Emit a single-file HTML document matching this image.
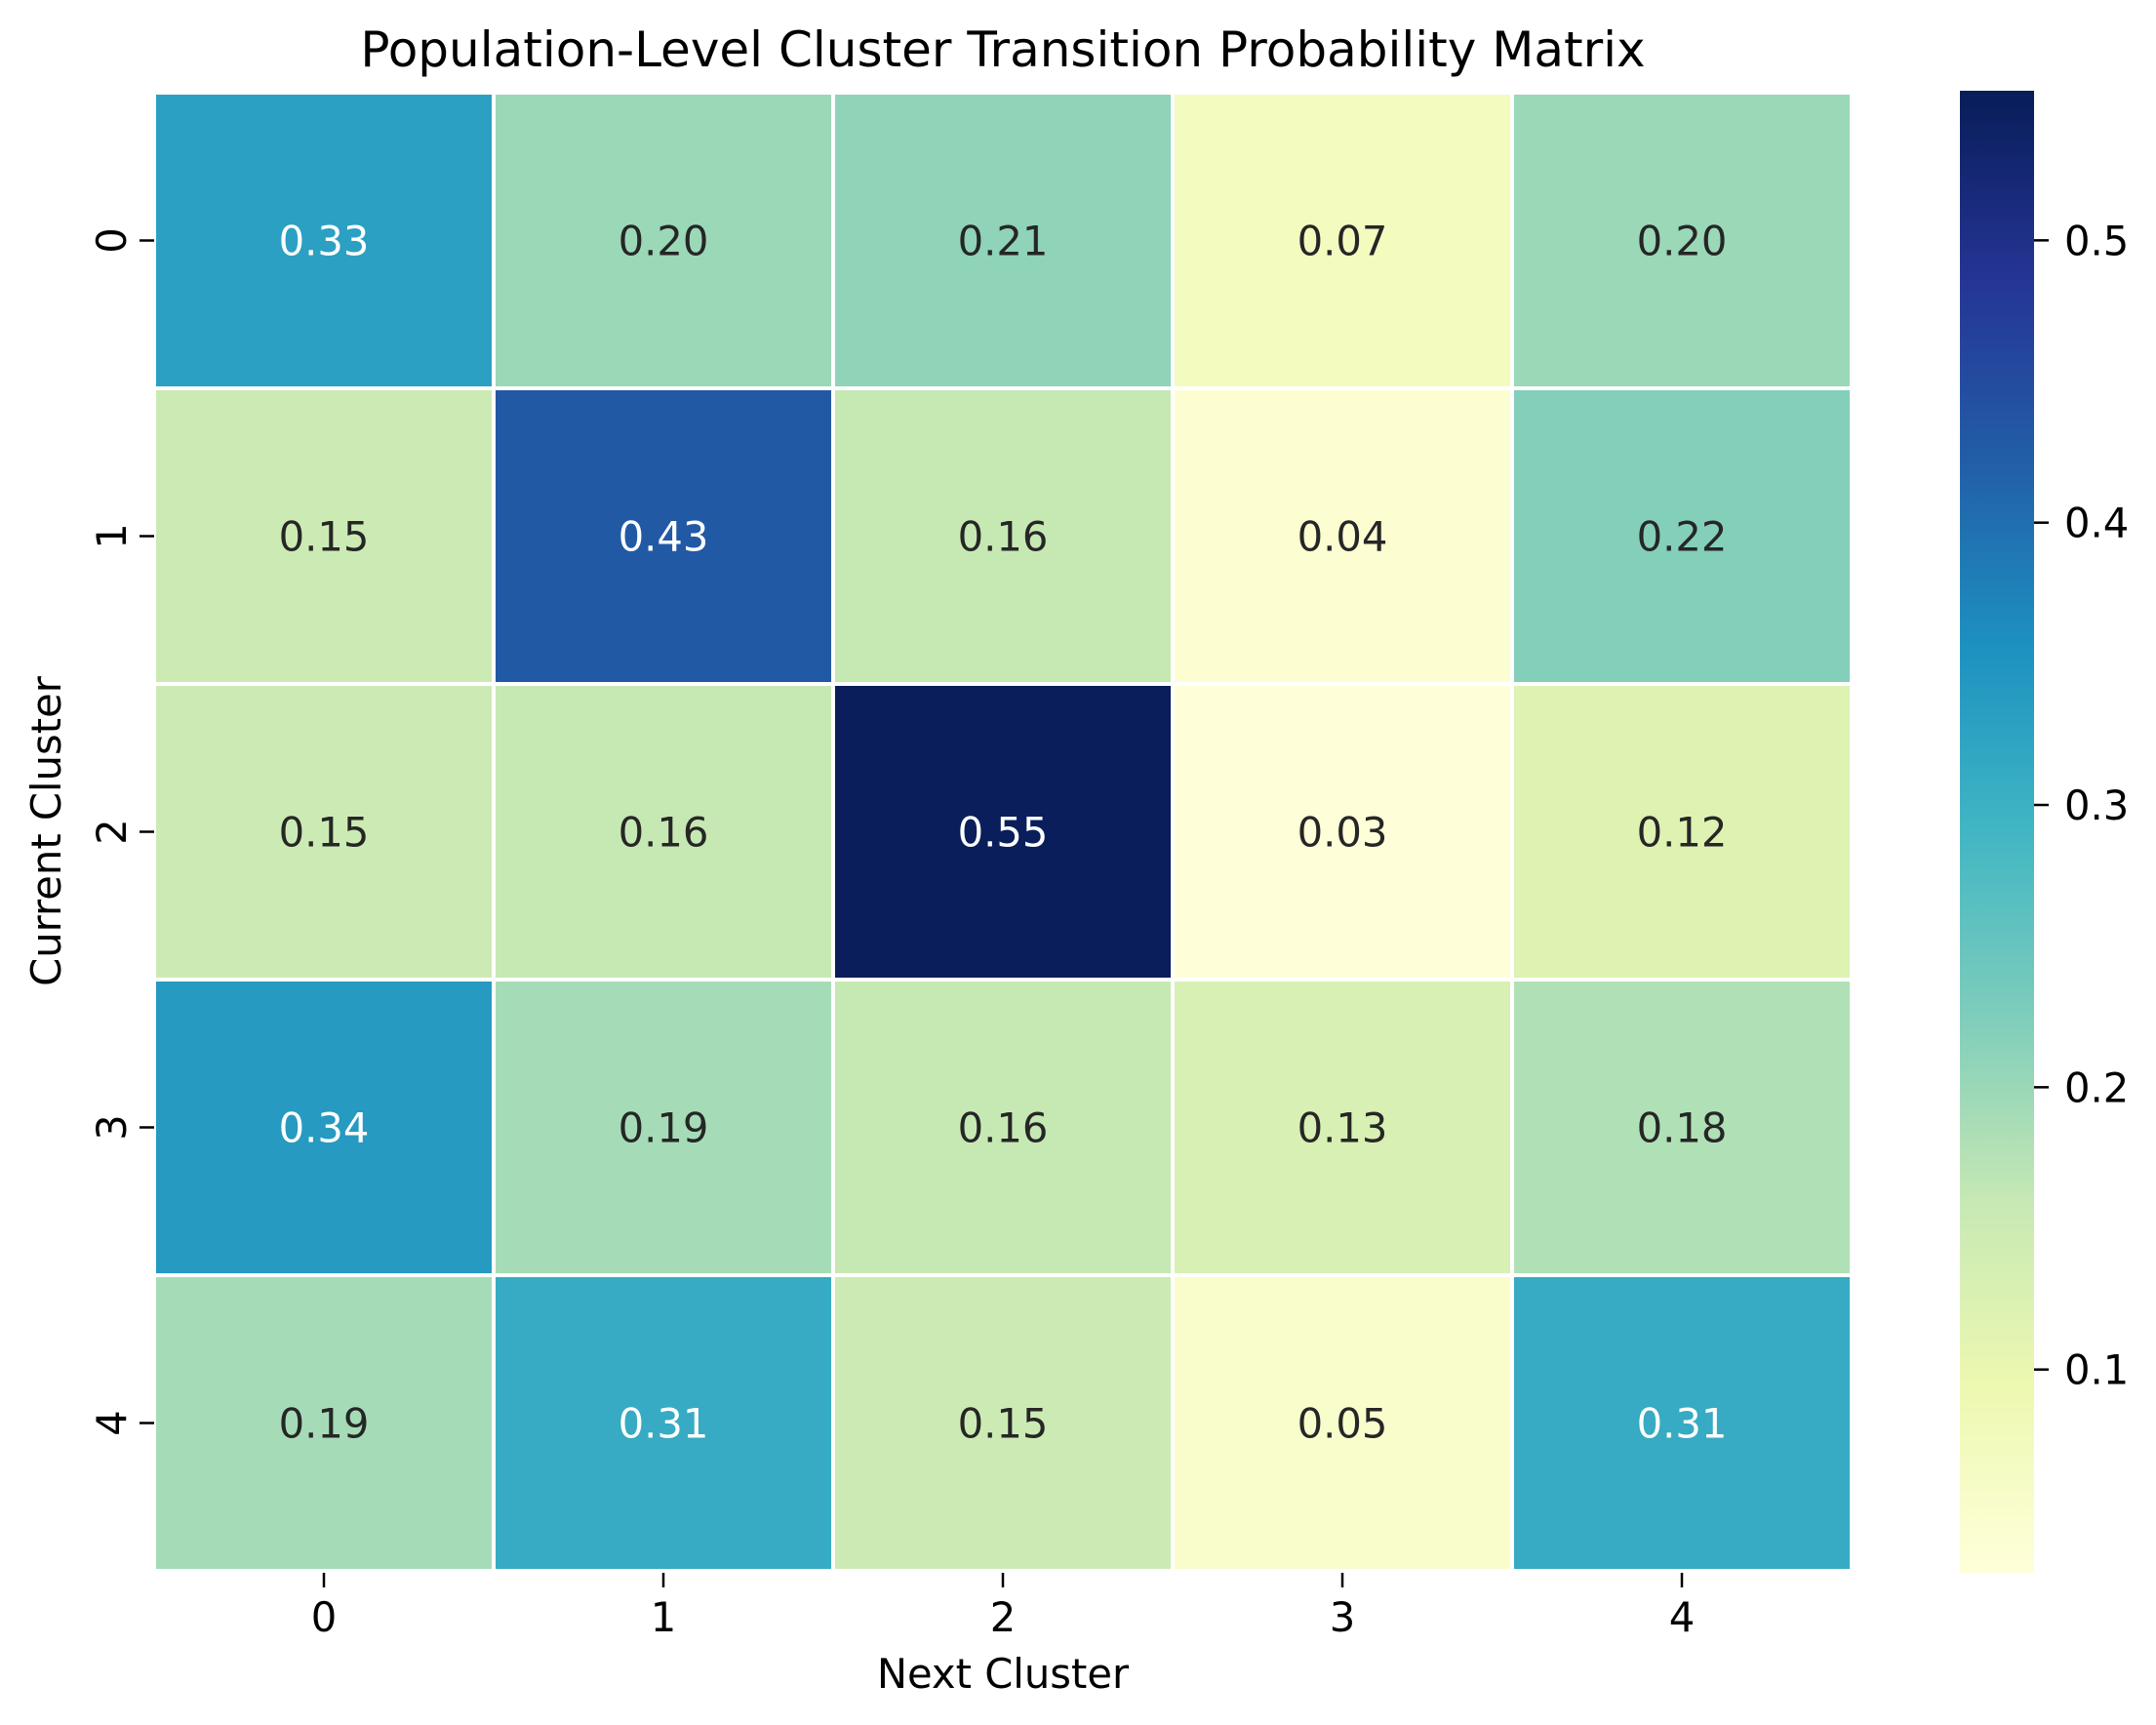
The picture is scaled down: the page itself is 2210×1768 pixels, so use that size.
<!DOCTYPE html>
<html><head><meta charset="utf-8"><style>
html,body{margin:0;padding:0;background:#fff;}
svg{display:block;font-family:"DejaVu Sans","Liberation Sans",sans-serif;}
</style></head><body>
<svg id="chart" width="2210" height="1768" viewBox="0 0 2210 1768" xmlns="http://www.w3.org/2000/svg">
<defs><linearGradient id="cbgrad" x1="0" y1="1" x2="0" y2="0"></linearGradient></defs>
<text x="1028" y="68" font-size="50" text-anchor="middle" fill="#000">Population-Level Cluster Transition Probability Matrix</text>
<g id="cells"></g>
<g id="axes"></g>
<text x="1028" y="1730" font-size="41.7" text-anchor="middle" fill="#000">Next Cluster</text>
<text x="0" y="0" font-size="41.7" text-anchor="middle" fill="#000" transform="translate(62,852) rotate(-90)">Current Cluster</text>
<rect x="2009" y="93" width="76" height="1519" fill="url(#cbgrad)"></rect>
<g id="cbaxis"></g>
</svg>
<script>
const rowLabels = ["0","1","2","3","4"];
const colLabels = ["0","1","2","3","4"];
const row0 = [0.33, 0.20, 0.21, 0.07, 0.20];
const row1 = [0.15, 0.43, 0.16, 0.04, 0.22];
const row2 = [0.15, 0.16, 0.55, 0.03, 0.12];
const row3 = [0.34, 0.19, 0.16, 0.13, 0.18];
const row4 = [0.19, 0.31, 0.15, 0.05, 0.31];
const cbTicks = [0.1, 0.2, 0.3, 0.4, 0.5];
const vmin = 0.028, vmax = 0.553;

const matrix = [row0,row1,row2,row3,row4];
const cmap = ["#ffffd9","#edf8b1","#c7e9b4","#7fcdbb","#41b6c4","#1d91c0","#225ea8","#253494","#081d58"];
const NS = "http://www.w3.org/2000/svg";
const L = 158, R = 1898, T = 95, B = 1610;
const cw = (R - L) / colLabels.length, ch = (B - T) / rowLabels.length;
function xPos(i){ return L + i * cw; }
function yPos(j){ return T + j * ch; }
function hex(c){ return [1,3,5].map(k=>parseInt(c.substr(k,2),16)); }
function color(v){
  let t = Math.max(0, Math.min(1, (v - vmin) / (vmax - vmin))) * (cmap.length - 1);
  let i = Math.min(Math.floor(t), cmap.length - 2), f = t - i;
  const a = hex(cmap[i]), b = hex(cmap[i+1]);
  return "rgb(" + a.map((x,k)=>Math.round(x + (b[k]-x)*f)).join(",") + ")";
}
function mk(tag, attrs, parent){
  const e = document.createElementNS(NS, tag);
  for (const k in attrs) e.setAttribute(k, attrs[k]);
  parent.appendChild(e); return e;
}
const grad = document.getElementById("cbgrad");
cmap.forEach((c,i)=>{ mk("stop",{offset:(i/(cmap.length-1)), "stop-color":c}, grad); });

const cells = document.getElementById("cells");
matrix.forEach((row, r)=>{
  row.forEach((v, c)=>{
    const rect = mk("rect",{x:xPos(c), y:yPos(r), width:cw, height:ch, fill:color(v), stroke:"#fff", "stroke-width":4}, cells);
    
    
    const t = mk("text",{x:xPos(c)+cw/2, y:yPos(r)+ch/2+15, "font-size":41.7, "text-anchor":"middle", fill: v > 0.3 ? "#fff" : "#262626"}, cells);
    
    
    t.textContent = v.toFixed(2);
  });
});
const axes = document.getElementById("axes");
colLabels.forEach((lab, i)=>{
  const cx = xPos(i) + cw/2;
  const tk = mk("line",{x1:cx, x2:cx, y1:1612, y2:1627, stroke:"#000", "stroke-width":2.5}, axes);
  
  
  const t = mk("text",{x:cx, y:1672, "font-size":41.7, "text-anchor":"middle", fill:"#000"}, axes);
  
  
  t.textContent = lab;
});
rowLabels.forEach((lab, j)=>{
  const cy = yPos(j) + ch/2;
  const tk = mk("line",{x1:143, x2:158, y1:cy, y2:cy, stroke:"#000", "stroke-width":2.5}, axes);
  
  
  const t = mk("text",{x:0, y:0, "font-size":41.7, "text-anchor":"middle", fill:"#000", transform:"translate(129,"+cy+") rotate(-90)"}, axes);
  
  
  t.textContent = lab;
});
const cb = document.getElementById("cbaxis");
function cbY(v){ return 1612 - (v - vmin) / (vmax - vmin) * 1519; }
cbTicks.forEach(v=>{
  const y = cbY(v);
  const tk = mk("line",{x1:2085, x2:2100, y1:y, y2:y, stroke:"#000", "stroke-width":2.5}, cb);
  
  
  const t = mk("text",{x:2116, y:y+15, "font-size":41.7, fill:"#000"}, cb);
  
  
  t.textContent = v.toFixed(1);
});
</script>
</body></html>
